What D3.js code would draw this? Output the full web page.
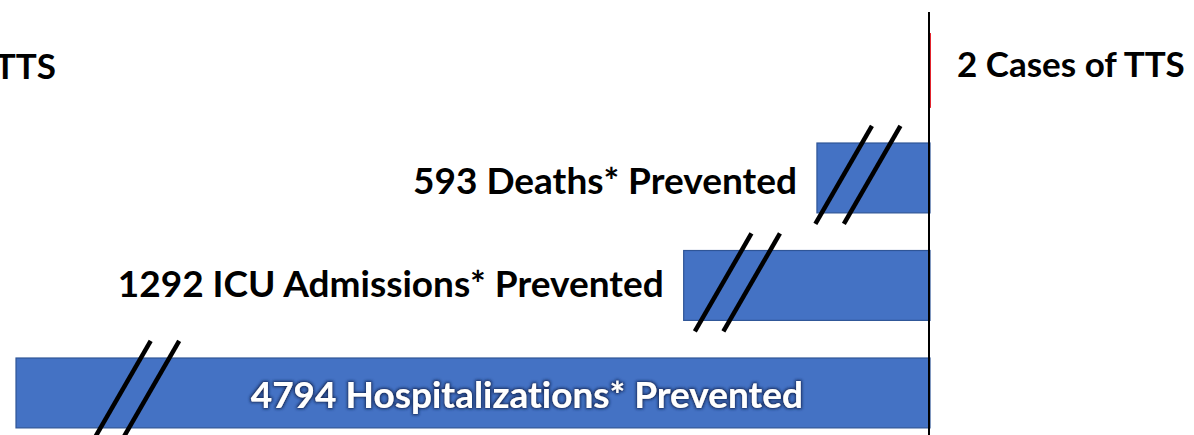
<!DOCTYPE html>
<html>
<head>
<meta charset="utf-8">
<script src="https://cdn.jsdelivr.net/npm/d3@7/dist/d3.min.js"></script>
<style>
  html, body { margin: 0; padding: 0; background: #fff; }
  svg { display: block; }
  text { font-family: Lato, "Open Sans", sans-serif; font-weight: 700; font-variant-ligatures: none; }
</style>
</head>
<body>
<svg id="chart" width="1194" height="435"></svg>
<script>
// Rows, top to bottom: the TTS case count, then the outcomes prevented
const rows = ["tts", "deaths", "icu", "hosp"];
const preventedKeys = ["deaths", "icu", "hosp"];
const preventedValues = [593, 1292, 4794];
const preventedNames = ["Deaths*", "ICU Admissions*", "Hospitalizations*"];
// Where each bar's axis-break marker sits, in the same units as the bar
const breakAt = [462, 1094, 4245];
const ttsValue = 2;
const leftHeading = "TTS";

const W = 1194, H = 435;
const svg = d3.select("#chart");

const blue = "#4472c4", blueEdge = "#2f5597";

// Prevented counts run left from the centre line, TTS cases run right
const x = d3.scaleLinear().domain([0, d3.max(preventedValues)]).range([930, 16]);
const xr = d3.scaleLinear().domain([0, d3.max(preventedValues)]).range([930, 1844]);
const y = d3.scaleBand().domain(rows).range([16.7, 446.7])
  .paddingInner(0.35).paddingOuter(0.175);

const prevented = preventedKeys.map((k, i) => ({
  key: k, value: preventedValues[i], name: preventedNames[i], brk: breakAt[i]
}));

// Glow behind the white label inside the long bar
const defs = svg.append("defs");
const glow = defs.append("filter").attr("id", "glow")
  .attr("x", "-5%").attr("y", "-30%").attr("width", "110%").attr("height", "160%");
glow.append("feMorphology").attr("in", "SourceAlpha").attr("operator", "dilate")
  .attr("radius", 1.4).attr("result", "fat");
glow.append("feGaussianBlur").attr("in", "fat").attr("stdDeviation", 1.4).attr("result", "blur");
glow.append("feFlood").attr("flood-color", "#15295a").attr("flood-opacity", 1);
glow.append("feComposite").attr("in2", "blur").attr("operator", "in").attr("result", "shadow");
const merge = glow.append("feMerge");
merge.append("feMergeNode").attr("in", "shadow");
merge.append("feMergeNode").attr("in", "SourceGraphic");

// Bars of outcomes prevented
svg.append("g").selectAll("rect").data(prevented).join("rect")
  .attr("x", d => x(d.value))
  .attr("y", d => y(d.key))
  .attr("width", d => x(0) - x(d.value))
  .attr("height", y.bandwidth())
  .attr("fill", blue)
  .attr("stroke", blueEdge)
  .attr("stroke-width", 1.2);

// TTS bar (very short)
svg.append("rect")
  .attr("x", xr(0))
  .attr("y", y("tts") - 2)
  .attr("width", xr(ttsValue) - xr(0))
  .attr("height", y.bandwidth() + 4)
  .attr("fill", "#e0141e")
  .attr("stroke", "#e0141e")
  .attr("stroke-width", 1);

// Centre line
svg.append("line")
  .attr("x1", x(0) - 1).attr("x2", x(0) - 1)
  .attr("y1", 12).attr("y2", H)
  .attr("stroke", "#000").attr("stroke-width", 2);

// Axis-break markers: a pair of slanted strokes on each bar
const slashUp = 52, slashDown = 46, slant = 56 / 97, gap = 28.5;
const slashes = [];
prevented.forEach(d => {
  const cy = y(d.key) + y.bandwidth() / 2;
  [0, gap].forEach(off => {
    const cx = x(d.brk) + off;
    slashes.push({ x1: cx - slashDown * slant, y1: cy + slashDown,
                   x2: cx + slashUp * slant, y2: cy - slashUp });
  });
});
svg.append("g").selectAll("line").data(slashes).join("line")
  .attr("x1", d => d.x1).attr("y1", d => d.y1)
  .attr("x2", d => d.x2).attr("y2", d => d.y2)
  .attr("stroke", "#000").attr("stroke-width", 4.5);

// Labels
const labels = svg.append("g").attr("font-size", 37);
labels.selectAll("text.out").data(prevented.filter(d => d.key !== "hosp")).join("text")
  .attr("class", "out")
  .attr("x", d => x(d.value) - 20)
  .attr("y", d => y(d.key) + y.bandwidth() / 2 + (d.key === "deaths" ? 16 : 12))
  .attr("text-anchor", "end")
  .attr("fill", "#000")
  .text(d => `${d.value} ${d.name} Prevented`);

const hosp = prevented.find(d => d.key === "hosp");
labels.append("text")
  .attr("x", x(0) - 127)
  .attr("y", y("hosp") + y.bandwidth() / 2 + 15)
  .attr("text-anchor", "end")
  .attr("fill", "#fff")
  .attr("filter", "url(#glow)")
  .text(`${hosp.value} ${hosp.name} Prevented`);

const ttsY = y("tts") + y.bandwidth() / 2 + 7;
const heads = svg.append("g").attr("font-size", 35);
heads.append("text")
  .attr("x", xr(0) + 27)
  .attr("y", ttsY)
  .attr("fill", "#000")
  .text(`${ttsValue} Cases of TTS`);

heads.append("text")
  .attr("x", 56)
  .attr("y", ttsY + 2)
  .attr("text-anchor", "end")
  .attr("fill", "#000")
  .text(leftHeading);
</script>
</body>
</html>
